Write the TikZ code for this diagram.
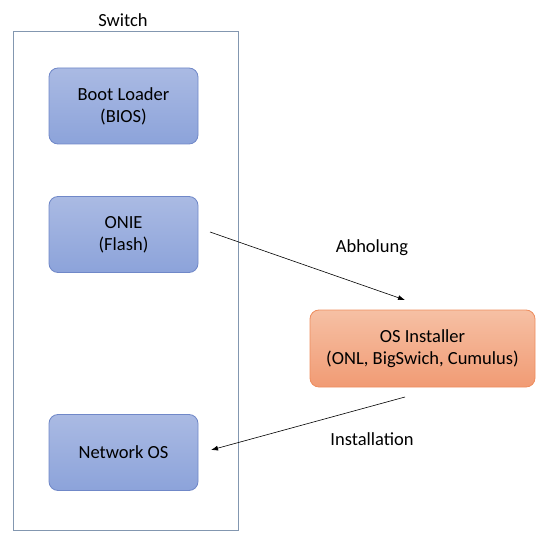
\documentclass[tikz,border=0pt]{standalone}
\usepackage{fontspec}
\setmainfont{Carlito}
\usetikzlibrary{arrows.meta}
\definecolor{bluetop}{HTML}{AABAE3}
\definecolor{bluebot}{HTML}{8CA3DA}
\definecolor{blueline}{HTML}{7088C8}
\definecolor{orgtop}{HTML}{F6C0A4}
\definecolor{orgbot}{HTML}{F19B74}
\definecolor{orgline}{HTML}{EE8D5E}
\definecolor{swline}{HTML}{8397B0}
\tikzset{
  bluebox/.style={rounded corners=9pt, draw=blueline, line width=0.8pt, top color=bluetop, bottom color=bluebot,
    minimum width=149pt, minimum height=76pt, align=center, font=\fontsize{18.5}{22}\selectfont, inner sep=0pt},
  orangebox/.style={rounded corners=9pt, draw=orgline, line width=0.8pt, top color=orgtop, bottom color=orgbot,
    minimum width=225pt, minimum height=77pt, align=center, font=\fontsize{18.5}{22}\selectfont, inner sep=0pt},
  lbl/.style={font=\fontsize{18.5}{22}\selectfont, inner sep=0pt},
  conn/.style={-{Latex[length=7pt,width=5pt]}, line width=0.6pt, black}
}
\begin{document}
\begin{tikzpicture}[x=1pt,y=-1pt]
\useasboundingbox (0,0) rectangle (550,543);
\node[draw=swline, line width=0.8pt, minimum width=225pt, minimum height=499pt, inner sep=0pt] (switch) at (125.5,280.5) {};
\node[lbl] (swlabel) at (123,20) {Switch};
\node[bluebox] (boot) at (123.5,106) {Boot Loader\\(BIOS)};
\node[bluebox] (onie) at (123.5,234.5) {ONIE\\(Flash)};
\node[bluebox] (nos) at (123.5,452.5) {Network OS};
\node[orangebox] (inst) at (422.5,348.5) {OS Installer\\(ONL, BigSwich, Cumulus)};
\coordinate (a1s) at (210,232);
\coordinate (a1e) at (405,300);
\coordinate (a2s) at (405,397);
\coordinate (a2e) at (211,450);
\draw[conn] (a1s) -- (a1e);
\draw[conn] (a2s) -- (a2e);
\node[lbl] (abh) at (372,248) {Abholung};
\node[lbl] (instl) at (372,439) {Installation};
\end{tikzpicture}
\end{document}
